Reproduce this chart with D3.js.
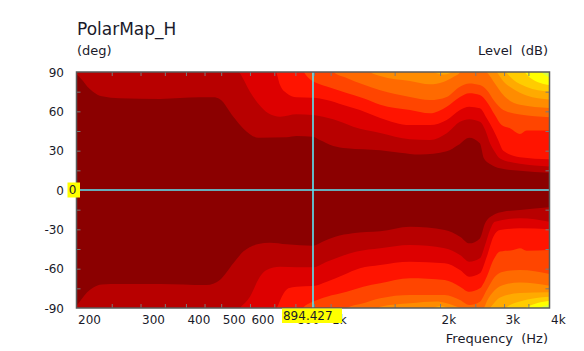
<!DOCTYPE html>
<html><head><meta charset="utf-8">
<script src="https://cdn.jsdelivr.net/npm/d3@7"></script>
<style>
body{margin:0;background:#fff}
svg{display:block}
text{font-family:"DejaVu Sans",Verdana,sans-serif;fill:#1a1a2a}
</style>
</head><body>
<svg id="chart" width="584" height="351"></svg>
<script>
// ---------- data ----------
const freqTicks = [250,300,350,400,450,500,600,700,800,900,1000,1500,2000,2500,3000,3500];
const freqLabelValues = [200,300,400,500,600,800,1000,2000,3000,4000];
const freqLabelTexts = ["200","300","400","500","600","800","1k","2k","3k","4k"];
const angleTicks = [-75,-60,-45,-30,-15,15,30,45,60,75];
const angleLabels = [-90,-60,-30,0,30,60,90];
const levelColors = ["#8b0000","#b80000","#dd0000","#ff1400","#ff4500","#ff6a00","#ff8c00","#ffaa00","#ffcc00","#ffff00","#d8ff40"];
const cursorFreq = 894.427;
const cursorAngle = 0;

// contour boundaries, upper half: [frequency Hz, angle deg]
const edgeTop1 = [[200,88.5],[207,84],[214,79],[222,75],[235,71.5],[263,70],[340,69.5],[436,70.7],[476,70.7],[496,69.2],[540,55.9],[575,47],[633,39.9],[757,40.2],[806,41.2],[894,40.7],[934,38.1],[1017,33.6],[1107,31.8],[1369,30.3],[1552,28.5],[1761,27],[2086,29.5],[2244,34.3],[2407,39.9],[2574,35.6],[2640,24.2],[2744,19.8],[2924,16.5],[3318,14.7],[4000,13.2]];
const edgeTop2 = [[552,92],[560,90],[600,75],[631,66.1],[674,58.5],[726,55.9],[806,57.7],[894,57.2],[1017,53.9],[1154,48.3],[1369,43.5],[1653,38.7],[1877,38.1],[2086,43.2],[2269,52],[2407,54],[2574,52],[2674,44.5],[2744,35.6],[2830,29],[2924,24],[3318,20],[4000,18]];
const edgeTop3 = [[700,92],[708,90],[726,80],[757,73.8],[806,70.7],[894,70.4],[976,68.6],[1084,64.8],[1204,61],[1369,55],[1653,49.6],[1877,49.6],[2086,53.4],[2269,61],[2407,63.5],[2574,62.3],[2688,54.7],[2803,45.8],[2891,38],[2985,30],[3318,25],[4000,23.4]];
const edgeTop4 = [[835,92],[844,90],[868,85.6],[894,83],[976,79],[1107,74],[1230,70],[1369,65],[1653,61],[1877,58.5],[2086,63.5],[2269,71],[2407,73.8],[2574,72.4],[2688,67.3],[2830,57.2],[2953,49.6],[3114,47.1],[3318,42.7],[3460,45.3],[4000,45.3]];
const edgeTop5 = [[1000,92],[1017,90],[1107,85.5],[1230,80.4],[1369,76],[1653,71],[1877,68.6],[2086,71],[2269,78.8],[2407,81.3],[2574,80],[2688,76.3],[2830,67.3],[2985,61],[3318,57.5],[4000,55.5]];
const edgeTop6 = [[1270,92],[1284,90],[1369,87],[1653,83.1],[1877,80.6],[2041,82.4],[2175,86.2],[2269,89.6],[2300,92],[2600,92],[2688,89.9],[2830,81.3],[2985,72.4],[3318,65],[4000,62.5]];
const edgeTop7 = [[1877,92],[1958,89],[2041,88],[2130,89],[2220,92],[2800,92],[2860,90],[2985,83],[3180,77],[3460,72],[4000,69]];
const edgeTop8 = [[2980,92],[3030,90],[3180,84],[3460,78.5],[4000,75]];
const edgeTop9 = [[3380,92],[3420,90],[3562,85],[4000,80]];
const edgeTop10 = [[3750,92],[3800,90],[4000,86]];

// contour boundaries, lower half: [frequency Hz, angle deg]
const edgeBot1 = [[200,-88.5],[207,-83],[214,-78],[222,-74.5],[235,-72],[263,-71.7],[340,-71.7],[456,-72.5],[496,-68.6],[540,-55.9],[575,-47],[633,-41.2],[680,-40.2],[757,-41.4],[894,-42.5],[950,-39.4],[1030,-35.6],[1150,-33],[1369,-31.5],[1653,-28],[2060,-30.5],[2269,-35.6],[2407,-40.7],[2574,-36.9],[2660,-25.4],[2803,-19.1],[2985,-16.5],[3318,-15.3],[4000,-13.2]];
const edgeBot2 = [[555,-92],[563,-90],[600,-81.4],[639,-66.1],[667,-61],[726,-58.5],[806,-59],[894,-59],[976,-54.7],[1061,-50.9],[1180,-47],[1369,-44.5],[1653,-42],[2060,-44.5],[2269,-49.6],[2407,-54.7],[2574,-52.1],[2660,-42],[2744,-30.5],[2830,-24.2],[3318,-21.6],[4000,-24.2]];
const edgeBot3 = [[703,-92],[711,-90],[734,-81.4],[765,-75],[806,-73.7],[894,-73.2],[976,-69.9],[1084,-64.8],[1204,-59.7],[1369,-57.2],[1653,-54.7],[2060,-55.9],[2269,-61],[2407,-66.1],[2574,-63.5],[2688,-50.9],[2803,-35.6],[2924,-30.5],[3318,-29.2],[4000,-30]];
const edgeBot4 = [[830,-92],[839,-90],[894,-85.2],[976,-81.4],[1107,-77.6],[1230,-73.7],[1369,-71.2],[1653,-67.3],[2060,-68.6],[2269,-73.7],[2407,-77.6],[2574,-75],[2688,-66.1],[2803,-53.4],[2924,-47],[3180,-45.8],[3318,-44.5],[3460,-46.3],[4000,-45.8]];
const edgeBot5 = [[1090,-92],[1107,-90],[1230,-86.4],[1369,-82.6],[1653,-80],[2060,-80],[2269,-83.9],[2407,-87.7],[2574,-85.2],[2688,-76.3],[2830,-66.1],[2985,-62.3],[3318,-61],[4000,-64]];
const edgeBot6 = [[1340,-92],[1369,-89],[1653,-86.4],[1958,-85],[2060,-86],[2269,-90],[2350,-92],[2574,-92],[2640,-90],[2688,-85],[2830,-76.3],[2985,-72.4],[3318,-70.5],[4000,-73]];
const edgeBot7 = [[1850,-92],[1958,-89],[2000,-88.5],[2100,-90],[2150,-92],[2700,-92],[2744,-90],[2924,-82],[3318,-78.5],[4000,-78]];
const edgeBot8 = [[2980,-92],[3030,-90],[3318,-85],[4000,-81.5]];
const edgeBot9 = [[3380,-92],[3440,-90],[4000,-84.5]];
const edgeBot10 = [[3700,-92],[3760,-90],[4000,-87.5]];

const topEdges = [edgeTop1,edgeTop2,edgeTop3,edgeTop4,edgeTop5,edgeTop6,edgeTop7,edgeTop8,edgeTop9,edgeTop10];
const botEdges = [edgeBot1,edgeBot2,edgeBot3,edgeBot4,edgeBot5,edgeBot6,edgeBot7,edgeBot8,edgeBot9,edgeBot10];

// ---------- layout ----------
const L = 76.5, R = 549.5, T = 72, B = 308;
const FONT = '"DejaVu Sans",Verdana,sans-serif';
const svg = d3.select("#chart");
const x = d3.scaleLog().domain([200,4000]).range([L,R]);
const y = d3.scaleLinear().domain([-90,90]).range([B,T]);

svg.append("defs").append("clipPath").attr("id","plotclip")
  .append("rect").attr("x",L).attr("y",T).attr("width",R-L).attr("height",B-T);

const plot = svg.append("g").attr("clip-path","url(#plotclip)");
plot.append("rect").attr("x",L).attr("y",T).attr("width",R-L).attr("height",B-T).attr("fill",levelColors[0]);

const curve = d3.curveMonotoneX;
topEdges.forEach((edge,i)=>{
  const area = d3.area().curve(curve).x(d=>x(d[0])).y0(d=>y(d[1])).y1(y(90)-2);
  plot.append("path").attr("d",area(edge)).attr("fill",levelColors[i+1]);
});
botEdges.forEach((edge,i)=>{
  const area = d3.area().curve(curve).x(d=>x(d[0])).y0(d=>y(d[1])).y1(y(-90)+2);
  plot.append("path").attr("d",area(edge)).attr("fill",levelColors[i+1]);
});

// cursor lines
const cx = x(cursorFreq), cy = y(cursorAngle);
const cursorColor = "#5ae6f6";
plot.append("line").attr("x1",cx).attr("x2",cx).attr("y1",T).attr("y2",B).attr("stroke",cursorColor).attr("stroke-width",1.6);
plot.append("line").attr("x1",L).attr("x2",R).attr("y1",cy).attr("y2",cy).attr("stroke",cursorColor).attr("stroke-width",1.6);

// inward tick marks
const tickColor = "#7a7a7a";
function styleTicks(g){ g.select(".domain").remove(); g.selectAll("line").attr("stroke",tickColor).attr("stroke-width",1); g.selectAll("text").remove(); }
svg.append("g").attr("transform",`translate(0,${B})`).call(d3.axisTop(x).tickValues(freqTicks).tickSize(4)).call(styleTicks);
svg.append("g").attr("transform",`translate(0,${T})`).call(d3.axisBottom(x).tickValues(freqTicks).tickSize(4)).call(styleTicks);
svg.append("g").attr("transform",`translate(${L},0)`).call(d3.axisRight(y).tickValues(angleTicks).tickSize(4)).call(styleTicks);
svg.append("g").attr("transform",`translate(${R},0)`).call(d3.axisLeft(y).tickValues(angleTicks).tickSize(4)).call(styleTicks);

// border
svg.append("rect").attr("x",L).attr("y",T).attr("width",R-L).attr("height",B-T)
  .attr("fill","none").attr("stroke","#5a5a5a").attr("stroke-width",1.5);

// tick labels
const xLab = svg.append("g").attr("transform",`translate(0,${B})`)
  .call(d3.axisBottom(x).tickValues(freqLabelValues).tickSize(0).tickFormat((d,i)=>freqLabelTexts[i]));
xLab.select(".domain").remove();
xLab.selectAll("text").attr("text-anchor","start").attr("dx","1").attr("y",16.3).attr("dy",0)
  .style("font-size","12px").style("font-family",FONT).attr("fill","#1a1a2a");

const yLab = svg.append("g").attr("transform",`translate(${L},0)`)
  .call(d3.axisLeft(y).tickValues(angleLabels).tickSize(0).tickPadding(12.5).tickFormat(d=>String(d)));
yLab.select(".domain").remove();
yLab.selectAll("text").attr("dy","4.3").style("font-size","12px").style("font-family",FONT).attr("fill","#1a1a2a");

// titles
svg.append("text").attr("x",77).attr("y",34.5).style("font-size","17px").text("PolarMap_H");
svg.append("text").attr("x",77).attr("y",55).style("font-size","13px").text("(deg)");
svg.append("text").attr("x",548).attr("y",55).attr("text-anchor","end").style("font-size","13px").attr("xml:space","preserve").text("Level  (dB)");
svg.append("text").attr("x",548).attr("y",343.3).attr("text-anchor","end").style("font-size","13px").attr("xml:space","preserve").text("Frequency  (Hz)");

// cursor value boxes
svg.append("rect").attr("x",cx-31).attr("y",B+0.5).attr("width",60).attr("height",14.5).attr("fill","#ffff00");
svg.append("text").attr("x",cx-30).attr("y",B+12.3).style("font-size","12px").attr("fill","#000").text(String(cursorFreq));
svg.append("rect").attr("x",L-9).attr("y",cy-7.5).attr("width",12.5).attr("height",15).attr("fill","#ffff00");
svg.append("text").attr("x",L-7.8).attr("y",cy+4.3).style("font-size","12px").attr("fill","#000").text(String(cursorAngle));
</script>
</body></html>
